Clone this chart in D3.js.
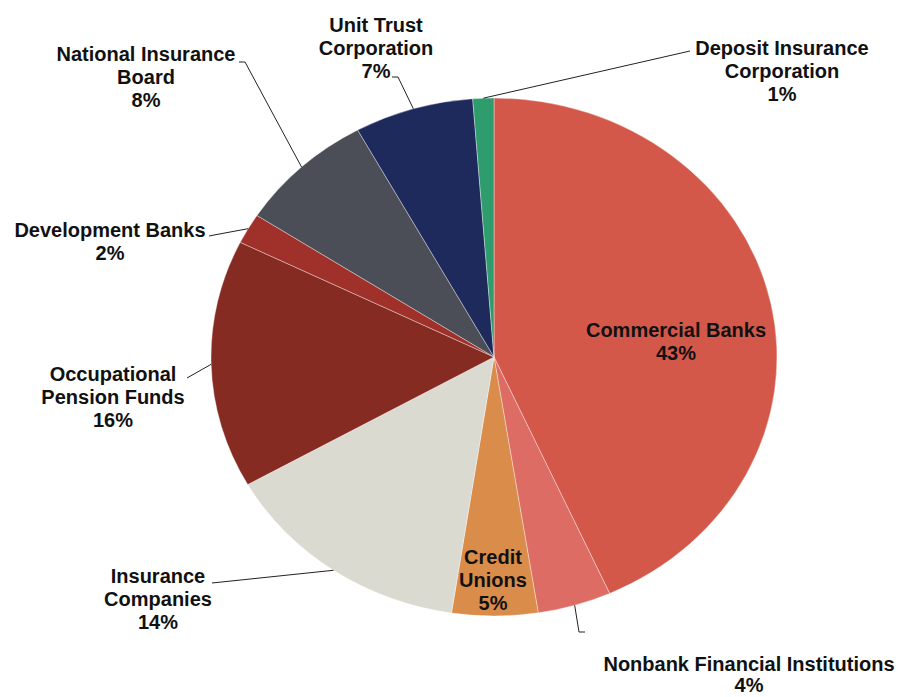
<!DOCTYPE html>
<html>
<head>
<meta charset="utf-8">
<script src="https://cdn.jsdelivr.net/npm/d3@7"></script>
<style>
  html, body { margin: 0; padding: 0; background: #fff; }
  svg { display: block; }
  text { font-family: "Liberation Sans", Arial, sans-serif; font-weight: bold; fill: #111; }
</style>
</head>
<body>
<svg id="chart" width="900" height="697"></svg>
<script>
// Sector shares of financial system assets (percent)
const categories = [
  "Commercial Banks",
  "Nonbank Financial Institutions",
  "Credit Unions",
  "Insurance Companies",
  "Occupational Pension Funds",
  "Development Banks",
  "National Insurance Board",
  "Unit Trust Corporation",
  "Deposit Insurance Corporation"
];
const shares = [43.3, 4.2, 4.9, 14.4, 15.5, 1.9, 7.8, 6.8, 1.2];
const colors = ["#d4584a", "#dc6c64", "#da8c4b", "#dadad1", "#862b22", "#a0302a", "#4b4e57", "#1e295c", "#2e9c6c"];

// Label text lines (the percentage line is appended from the value)
const labelLines = [
  ["Commercial Banks"],
  ["Nonbank Financial Institutions"],
  ["Credit", "Unions"],
  ["Insurance", "Companies"],
  ["Occupational", "Pension Funds"],
  ["Development Banks"],
  ["National Insurance", "Board"],
  ["Unit Trust", "Corporation"],
  ["Deposit Insurance", "Corporation"]
];

// Layout: label centre x / first baseline / line step, and leader-line path from label side
const layout = [
  { x: 676, y: 337, step: 23, leader: null },
  { x: 749, y: 671, step: 21, leader: [[585, 632], [579, 632]] },
  { x: 493, y: 564, step: 23, leader: null },
  { x: 158, y: 583, step: 23, leader: [[212, 583]] },
  { x: 113, y: 381, step: 23, leader: [[187, 378]] },
  { x: 110, y: 237, step: 23, leader: [[209, 236], [214, 235]] },
  { x: 146, y: 61,  step: 23, leader: [[239, 62], [245, 62]] },
  { x: 376, y: 32,  step: 23, leader: [[392, 77], [398, 77]] },
  { x: 782, y: 55,  step: 23, leader: [[690, 51]] }
];

const cx = 494, cy = 357, rx = 283, ry = 259;

const svg = d3.select("#chart");
const data = categories.map((c, i) => ({ name: c, value: shares[i], color: colors[i], lines: labelLines[i], lay: layout[i] }));

const pie = d3.pie().sort(null).value(d => d.value);
const arcs = pie(data);
const arc = d3.arc().innerRadius(0).outerRadius(rx);

// Elliptical pie: draw circular arcs, squash vertically
const g = svg.append("g").attr("transform", `translate(${cx},${cy}) scale(1,${ry / rx})`);
g.selectAll("path")
  .data(arcs)
  .join("path")
  .attr("d", arc)
  .attr("fill", d => d.data.color)
  .attr("stroke", "rgba(255,255,255,0.55)")
  .attr("stroke-width", 0.7);

// Point on the ellipse edge at a slice's mid angle
function edgePoint(a) {
  const m = (a.startAngle + a.endAngle) / 2;
  return [cx + rx * Math.sin(m), cy - ry * Math.cos(m)];
}

// Leader lines
const line = d3.line();
arcs.forEach(a => {
  const lay = a.data.lay;
  if (!lay.leader) return;
  const pts = [...lay.leader, edgePoint(a)];
  svg.append("path")
    .attr("d", line(pts))
    .attr("fill", "none")
    .attr("stroke", "#222")
    .attr("stroke-width", 1);
});

// Labels
const fmt = v => Math.round(v) + "%";
arcs.forEach(a => {
  const d = a.data;
  const t = svg.append("text")
    .attr("x", d.lay.x)
    .attr("y", d.lay.y)
    .attr("text-anchor", "middle")
    .attr("font-size", 20);
  [...d.lines, fmt(d.value)].forEach((s, i) => {
    t.append("tspan")
      .attr("x", d.lay.x)
      .attr("dy", i === 0 ? 0 : d.lay.step)
      .text(s);
  });
});
</script>
</body>
</html>
